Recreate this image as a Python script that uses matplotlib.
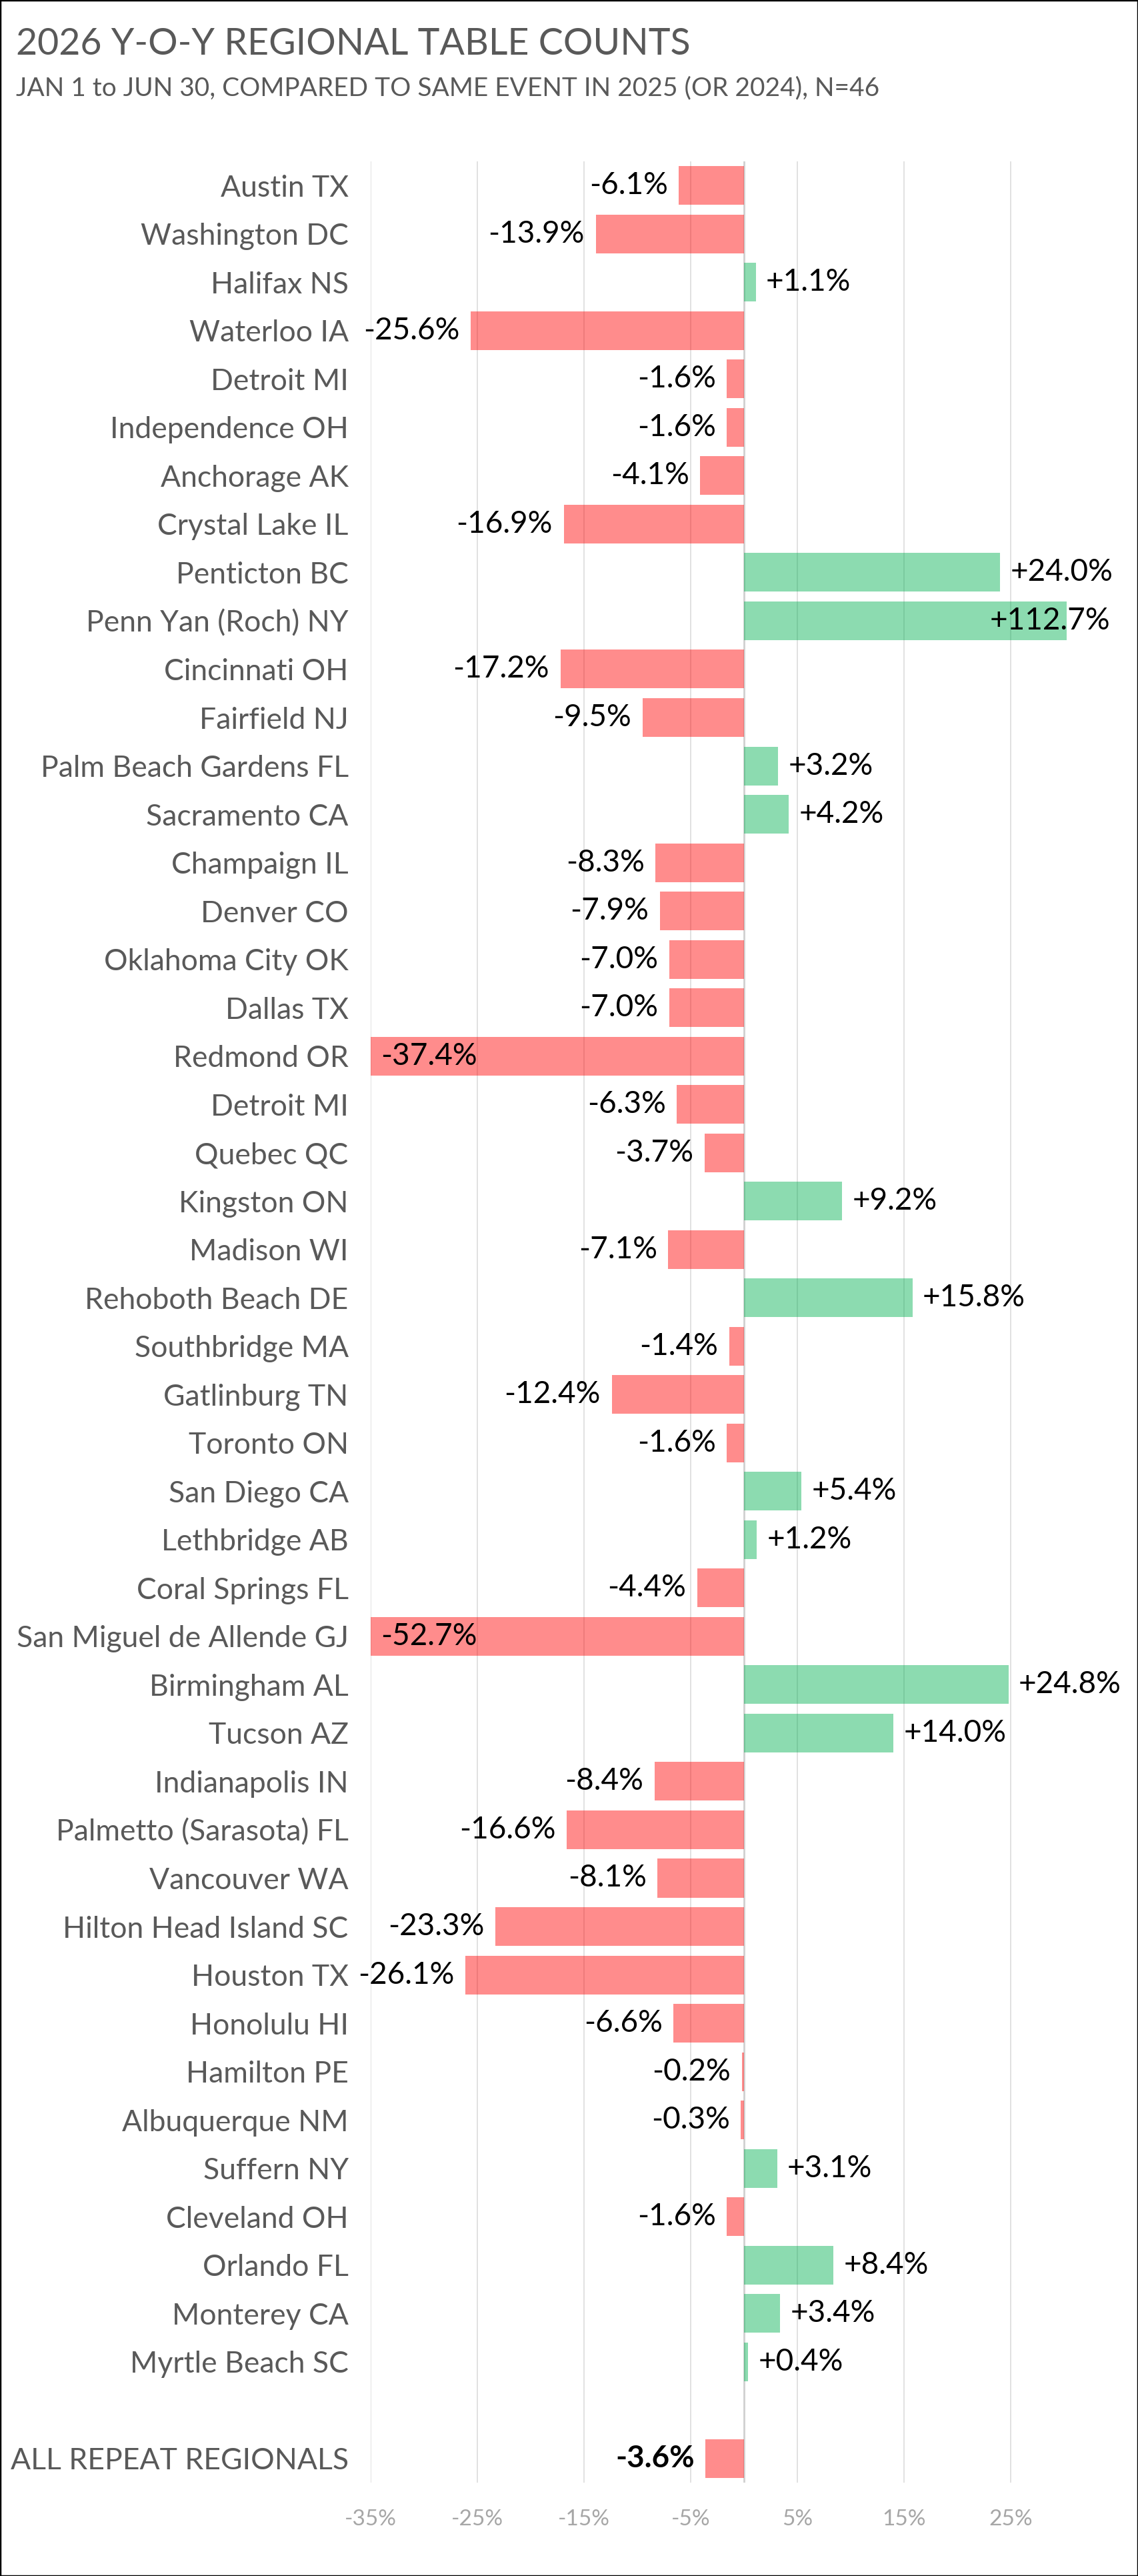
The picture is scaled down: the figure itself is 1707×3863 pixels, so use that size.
"""Year-over-year regional table counts, horizontal bar chart."""

import matplotlib
matplotlib.use("Agg")
import matplotlib.pyplot as plt
from matplotlib.patches import Rectangle

plt.rcParams["font.family"] = ["Lato", "DejaVu Sans"]

TITLE = "2026 Y-O-Y REGIONAL TABLE COUNTS"
SUBTITLE = "JAN 1 to JUN 30, COMPARED TO SAME EVENT IN 2025 (OR 2024), N=46"

cities = [
    "Austin TX", "Washington DC", "Halifax NS", "Waterloo IA", "Detroit MI",
    "Independence OH", "Anchorage AK", "Crystal Lake IL", "Penticton BC",
    "Penn Yan (Roch) NY", "Cincinnati OH", "Fairfield NJ", "Palm Beach Gardens FL",
    "Sacramento CA", "Champaign IL", "Denver CO", "Oklahoma City OK", "Dallas TX",
    "Redmond OR", "Detroit MI", "Quebec QC", "Kingston ON", "Madison WI",
    "Rehoboth Beach DE", "Southbridge MA", "Gatlinburg TN", "Toronto ON",
    "San Diego CA", "Lethbridge AB", "Coral Springs FL", "San Miguel de Allende GJ",
    "Birmingham AL", "Tucson AZ", "Indianapolis IN", "Palmetto (Sarasota) FL",
    "Vancouver WA", "Hilton Head Island SC", "Houston TX", "Honolulu HI",
    "Hamilton PE", "Albuquerque NM", "Suffern NY", "Cleveland OH", "Orlando FL",
    "Monterey CA", "Myrtle Beach SC",
]
yoy_pct = [
    -6.1, -13.9, 1.1, -25.6, -1.6,
    -1.6, -4.1, -16.9, 24.0,
    112.7, -17.2, -9.5, 3.2,
    4.2, -8.3, -7.9, -7.0, -7.0,
    -37.4, -6.3, -3.7, 9.2, -7.1,
    15.8, -1.4, -12.4, -1.6,
    5.4, 1.2, -4.4, -52.7,
    24.8, 14.0, -8.4, -16.6,
    -8.1, -23.3, -26.1, -6.6,
    -0.2, -0.3, 3.1, -1.6, 8.4,
    3.4, 0.4,
]
total_label = "ALL REPEAT REGIONALS"
total_pct = -3.6

x_ticks = [-35, -25, -15, -5, 5, 15, 25]
x_min, x_max = -35, 30.25

RED = "#FF0000"
GREEN = "#00B050"
GREY_TEXT = "#595959"

# one empty slot between the cities and the total row
labels = cities + ["", total_label]
values = yoy_pct + [None, total_pct]
positions = list(range(len(labels)))

fig = plt.figure(figsize=(17.07, 38.63), dpi=100)
ax = fig.add_axes([0.3257, 0.03624, 0.6116, 0.90111])

for x in x_ticks:
    ax.axvline(x, color="#D9D9D9", lw=1.1, zorder=0)
ax.axvline(0, color="#D0D0D0", lw=2.0, zorder=0)

bar_pos = [p for p, v in zip(positions, values) if v is not None]
bar_val = [v for v in values if v is not None]
colors = [GREEN if v >= 0 else RED for v in bar_val]
ax.barh(bar_pos, bar_val, height=0.8, color=colors, alpha=0.45, zorder=2)

for p, v in zip(bar_pos, bar_val):
    text = f"{v:+.1f}%" if v >= 0 else f"{v:.1f}%"
    weight = "bold" if p == positions[-1] else "normal"
    if v < x_min:
        x, dx, ha = x_min, 11, "left"
    elif v > x_max:
        x, dx, ha = x_max, 47, "right"
    elif v < 0:
        x, dx, ha = v, -12, "right"
    else:
        x, dx, ha = v, 11, "left"
    ax.annotate(text, (x, p), xytext=(dx, 0), textcoords="offset points",
                ha=ha, va="center", fontsize=33, color="black",
                fontweight=weight, annotation_clip=False, zorder=3)

ax.set_xlim(x_min, x_max)
ax.set_ylim(positions[-1] + 0.5, -0.5)
ax.set_xticks(x_ticks, [f"{t}%" for t in x_ticks])
ax.set_yticks(positions, labels)
ax.tick_params(axis="x", length=0, pad=29, labelsize=24, labelcolor="#A6A6A6")
ax.tick_params(axis="y", length=0, pad=24, labelsize=32, labelcolor=GREY_TEXT)
for side in ax.spines.values():
    side.set_visible(False)

fig.text(24 / 1707, 1 - 82 / 3863, TITLE, fontsize=40, color=GREY_TEXT,
         ha="left", va="baseline")
fig.text(24 / 1707, 1 - 143 / 3863, SUBTITLE, fontsize=28, color=GREY_TEXT,
         ha="left", va="baseline")

fig.add_artist(Rectangle((0, 0), 1, 1, transform=fig.transFigure,
                         fill=False, ec="black", lw=2.5))

fig.savefig("out.png", dpi=100)
